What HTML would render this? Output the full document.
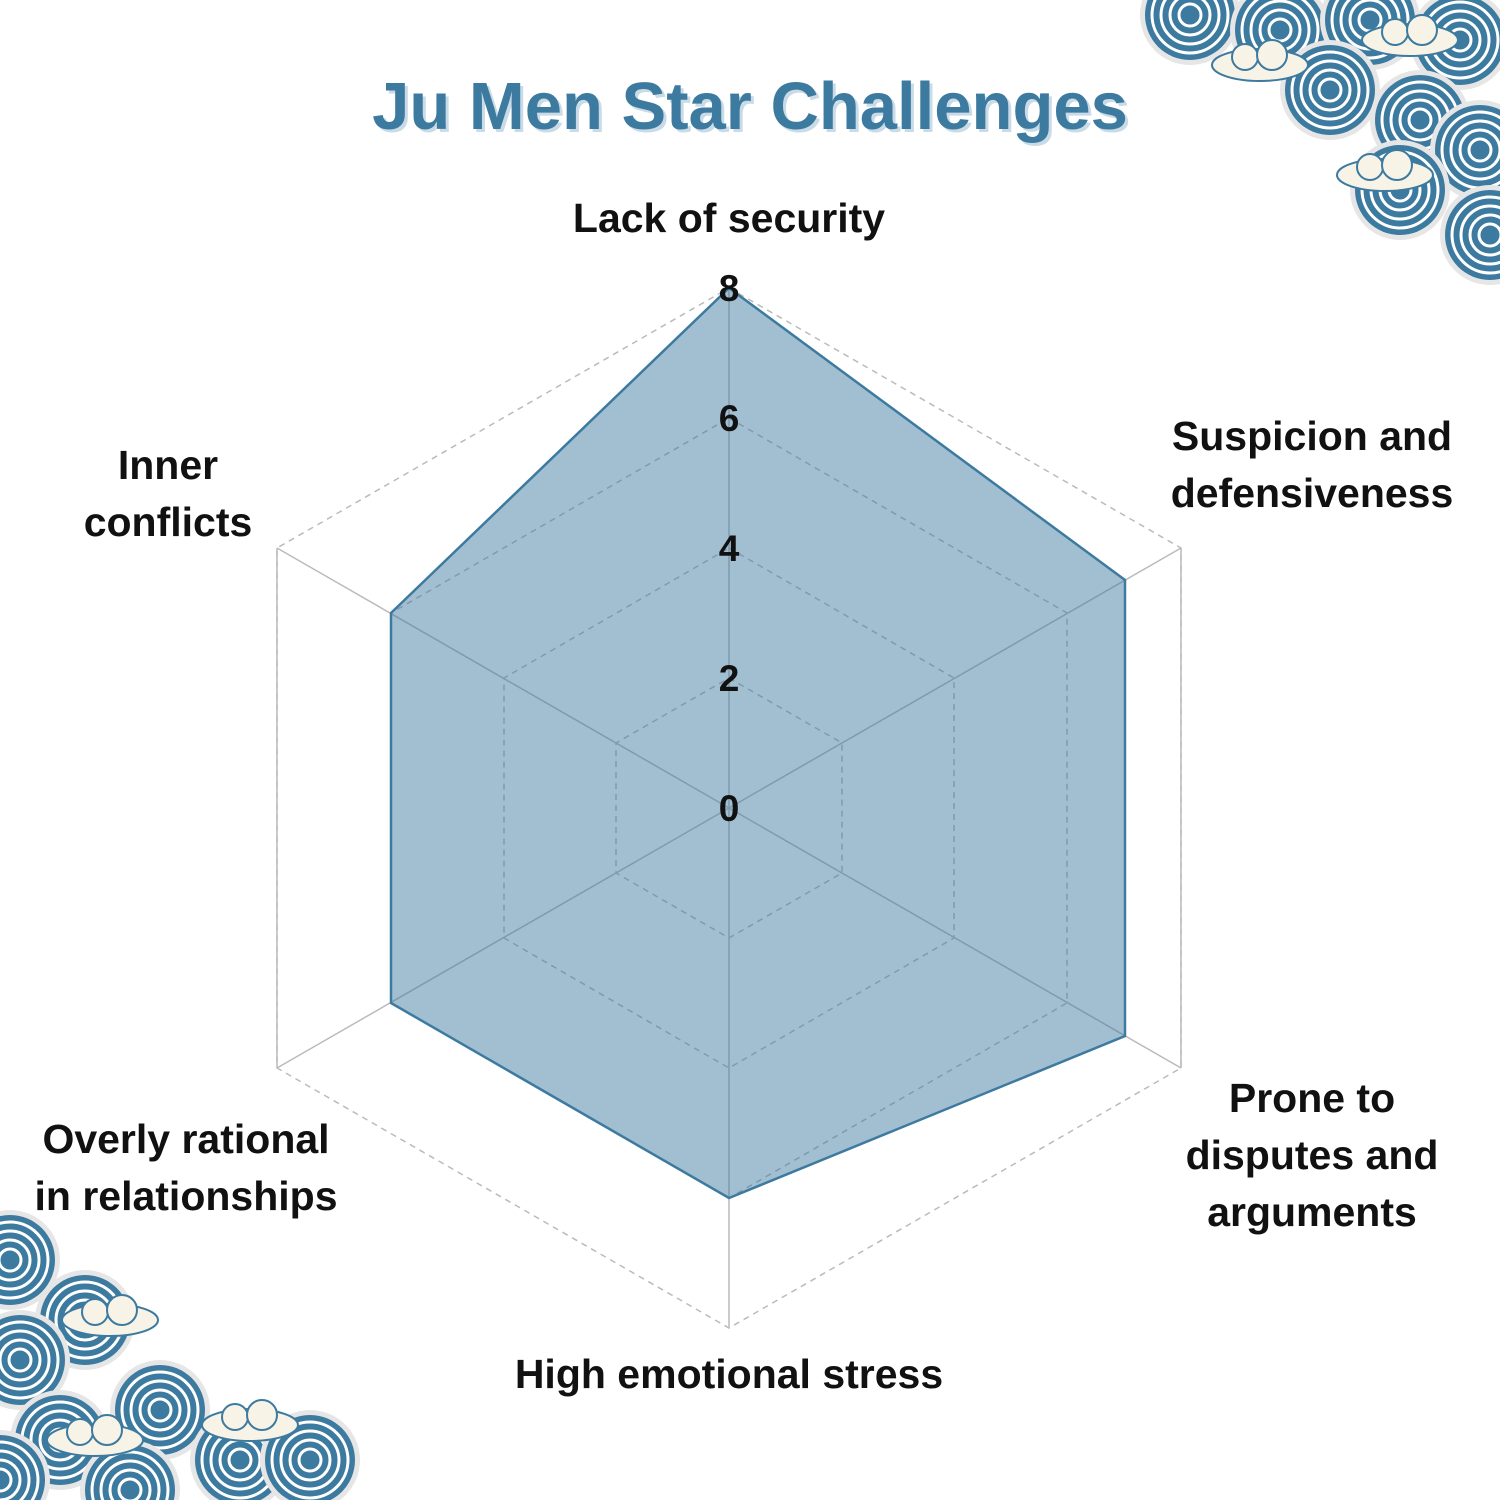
<!DOCTYPE html>
<html><head><meta charset="utf-8"><style>
html,body{margin:0;padding:0;background:#fff}
svg{display:block}
text{font-family:"Liberation Sans",sans-serif;font-weight:bold}
</style></head><body>
<svg width="1500" height="1500" viewBox="0 0 1500 1500" xmlns="http://www.w3.org/2000/svg">
<defs>
<g id="sw">
<circle r="50" fill="#e6e6e6"/>
<circle r="45" fill="#3d7aa0"/>
<circle r="38" fill="none" stroke="#fff" stroke-width="3"/>
<circle r="29" fill="none" stroke="#fff" stroke-width="3"/>
<circle r="20" fill="none" stroke="#fff" stroke-width="3"/>
<circle r="11" fill="none" stroke="#fff" stroke-width="3"/>
</g>
<g id="cl">
<ellipse cx="0" cy="0" rx="48" ry="16" fill="#f7f3e6" stroke="#3d7aa0" stroke-width="2"/>
<circle cx="-15" cy="-8" r="13" fill="#f7f3e6" stroke="#3d7aa0" stroke-width="2"/>
<circle cx="12" cy="-10" r="15" fill="#f7f3e6" stroke="#3d7aa0" stroke-width="2"/>
</g>
</defs>
<g>
<use href="#sw" x="1190" y="15"/><use href="#sw" x="1280" y="30"/><use href="#sw" x="1370" y="20"/><use href="#sw" x="1460" y="40"/>
<use href="#sw" x="1330" y="90"/><use href="#sw" x="1420" y="120"/><use href="#sw" x="1480" y="150"/><use href="#sw" x="1400" y="190"/><use href="#sw" x="1490" y="235"/>
<use href="#cl" x="1260" y="65"/><use href="#cl" x="1410" y="40"/><use href="#cl" x="1385" y="175"/>
</g>
<g>
<use href="#sw" x="10" y="1260"/><use href="#sw" x="85" y="1320"/><use href="#sw" x="20" y="1360"/><use href="#sw" x="160" y="1410"/>
<use href="#sw" x="60" y="1440"/><use href="#sw" x="240" y="1460"/><use href="#sw" x="310" y="1460"/><use href="#sw" x="130" y="1490"/><use href="#sw" x="0" y="1480"/>
<use href="#cl" x="110" y="1320"/><use href="#cl" x="95" y="1440"/><use href="#cl" x="250" y="1425"/>
</g>
<text x="753" y="132" font-size="67" fill="#c9dbe6" text-anchor="middle">Ju Men Star Challenges</text>
<text x="750" y="129" font-size="67" fill="#3d7aa0" text-anchor="middle">Ju Men Star Challenges</text>
<g fill="none" stroke="#bbb" stroke-width="1.5" stroke-dasharray="6,5">
<polygon points="729,678 842,743 842,873 729,938 616,873 616,743"/>
<polygon points="729,548 954,678 954,938 729,1068 504,938 504,678"/>
<polygon points="729,418 1067,613 1067,1003 729,1198 391,1003 391,613"/>
<polygon points="729,288 1181,548 1181,1068 729,1328 277,1068 277,548"/>
</g>
<g stroke="#bbb" stroke-width="1.5">
<line x1="729" y1="808" x2="729" y2="288"/><line x1="729" y1="808" x2="1181" y2="548"/><line x1="729" y1="808" x2="1181" y2="1068"/>
<line x1="729" y1="808" x2="729" y2="1328"/><line x1="729" y1="808" x2="277" y2="1068"/><line x1="729" y1="808" x2="277" y2="548"/>
<line x1="277" y1="548" x2="277" y2="1068"/><line x1="1181" y1="548" x2="1181" y2="1068"/>
</g>
<polygon points="729,288 1125,580 1125,1036 729,1198 391,1003 391,613" fill="rgba(61,122,160,0.48)" stroke="#3d7aa0" stroke-width="2.5"/>
<g font-size="37" fill="#111" text-anchor="middle">
<text x="729" y="821">0</text><text x="729" y="691">2</text><text x="729" y="561">4</text><text x="729" y="431">6</text><text x="729" y="301">8</text>
</g>
<g font-size="41" fill="#111" text-anchor="middle">
<text x="729" y="232">Lack of security</text>
<text x="1312" y="450">Suspicion and</text><text x="1312" y="507">defensiveness</text>
<text x="1312" y="1112">Prone to</text><text x="1312" y="1169">disputes and</text><text x="1312" y="1226">arguments</text>
<text x="729" y="1388">High emotional stress</text>
<text x="186" y="1153">Overly rational</text><text x="186" y="1210">in relationships</text>
<text x="168" y="479">Inner</text><text x="168" y="536">conflicts</text>
</g>
</svg>
</body></html>
